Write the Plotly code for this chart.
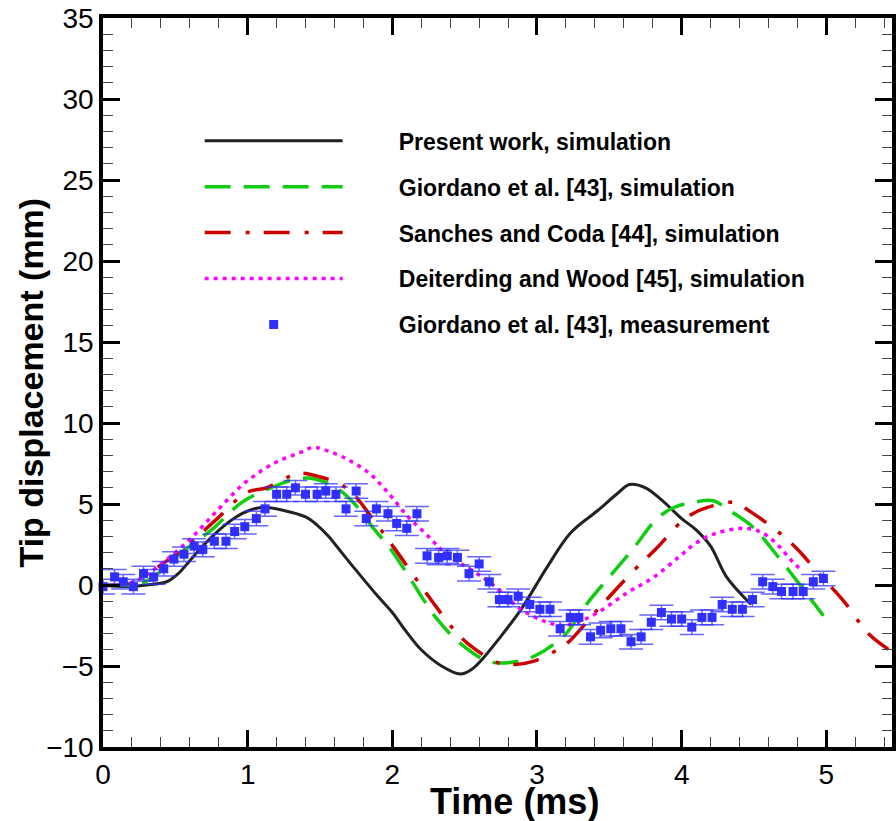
import plotly.graph_objects as go

# Present work, simulation
t_present = [0, 0.15, 0.3, 0.44, 0.52, 0.6, 0.7, 0.83, 0.92, 1.01, 1.11, 1.25, 1.40, 1.48, 1.56, 1.65, 1.75, 1.90, 2.0, 2.09, 2.2, 2.34, 2.47, 2.55, 2.62, 2.73, 2.89, 3.07, 3.23, 3.42, 3.55, 3.64, 3.75, 3.88, 4.0, 4.10, 4.2, 4.31, 4.48]
y_present = [0, -0.1, 0.0, 0.2, 0.7, 1.5, 2.5, 3.6, 4.2, 4.6, 4.8, 4.6, 4.2, 3.7, 3.0, 2.0, 0.9, -0.7, -1.7, -2.8, -4.0, -5.0, -5.5, -5.2, -4.6, -3.4, -1.5, 1.1, 3.2, 4.6, 5.6, 6.2, 6.0, 5.1, 4.1, 3.4, 2.4, 0.5, -1.2]

# Giordano et al. [43], simulation
t_giordano = [0, 0.29, 0.54, 0.75, 0.96, 1.16, 1.32, 1.42, 1.52, 1.63, 1.75, 1.86, 1.99, 2.13, 2.30, 2.47, 2.66, 2.8, 2.98, 3.19, 3.35, 3.51, 3.67, 3.83, 3.95, 4.08, 4.22, 4.33, 4.49, 4.67, 4.81, 4.98]
y_giordano = [0, 0.2, 2.0, 3.4, 5.1, 6.0, 6.5, 6.6, 6.4, 5.9, 4.9, 3.6, 2.2, 0.3, -2.0, -3.6, -4.7, -4.8, -4.4, -3.1, -1.1, 0.6, 2.3, 4.1, 4.8, 5.1, 5.2, 4.6, 3.6, 1.7, 0.1, -1.9]

# Sanches and Coda [44], simulation
t_sanches = [0, 0.17, 0.52, 0.79, 0.99, 1.13, 1.24, 1.36, 1.49, 1.62, 1.72, 1.88, 2.02, 2.25, 2.43, 2.52, 2.73, 2.85, 2.98, 3.14, 3.22, 3.42, 3.67, 3.83, 4.01, 4.12, 4.22, 4.36, 4.48, 4.65, 4.79, 4.95, 5.13, 5.29, 5.45]
y_sanches = [0, 0.1, 2.0, 4.1, 5.7, 6.0, 6.5, 6.9, 6.7, 6.3, 5.7, 3.9, 2.2, -0.7, -2.8, -3.6, -4.8, -4.9, -4.7, -4.0, -3.5, -1.5, 0.9, 2.3, 4.0, 4.6, 4.9, 5.1, 4.5, 3.4, 2.3, 0.7, -1.1, -3.0, -4.1]

# Deiterding and Wood [45], simulation
t_deiterding = [0, 0.1, 0.24, 0.43, 0.61, 0.79, 0.98, 1.18, 1.37, 1.45, 1.51, 1.68, 1.84, 1.97, 2.11, 2.25, 2.36, 2.57, 2.71, 2.89, 3.07, 3.18, 3.28, 3.42, 3.62, 3.81, 3.99, 4.10, 4.24, 4.43, 4.54, 4.65, 4.77, 4.83]
y_deiterding = [0, 0, 0.3, 1.5, 2.9, 4.6, 6.3, 7.5, 8.2, 8.5, 8.4, 7.8, 6.9, 5.7, 4.2, 3.0, 2.0, 0.8, -0.1, -1.5, -2.3, -2.5, -2.3, -1.7, -0.5, 0.5, 1.8, 2.6, 3.2, 3.5, 3.3, 2.6, 1.4, 0.9]

# Giordano et al. [43], measurement
t_meas = [0, 0.08, 0.14, 0.21, 0.28, 0.35, 0.42, 0.49, 0.56, 0.63, 0.69, 0.77, 0.85, 0.91, 0.98, 1.06, 1.12, 1.20, 1.27, 1.33, 1.40, 1.48, 1.54, 1.61, 1.68, 1.75, 1.82, 1.89, 1.97, 2.03, 2.10, 2.17, 2.24, 2.32, 2.38, 2.45, 2.53, 2.60, 2.67, 2.74, 2.80, 2.87, 2.95, 3.02, 3.09, 3.16, 3.23, 3.29, 3.37, 3.44, 3.51, 3.58, 3.65, 3.72, 3.79, 3.86, 3.93, 4.00, 4.07, 4.14, 4.21, 4.28, 4.35, 4.42, 4.49, 4.56, 4.63, 4.69, 4.77, 4.84, 4.91, 4.98]
y_meas = [-0.1, 0.5, 0.2, -0.1, 0.7, 0.5, 1.0, 1.6, 1.9, 2.4, 2.2, 2.7, 2.7, 3.3, 3.6, 4.1, 4.7, 5.6, 5.6, 6.0, 5.6, 5.6, 5.8, 5.6, 4.7, 5.8, 4.1, 4.7, 4.4, 3.8, 3.5, 4.4, 1.8, 1.7, 1.8, 1.7, 0.7, 1.3, 0.2, -0.9, -0.9, -0.7, -1.2, -1.5, -1.5, -2.7, -2.0, -2.0, -3.2, -2.8, -2.7, -2.7, -3.5, -3.2, -2.3, -1.7, -2.1, -2.1, -2.6, -2.0, -2.0, -1.2, -1.5, -1.5, -0.9, 0.2, -0.1, -0.4, -0.4, -0.4, 0.2, 0.4]
meas_err = 0.45

FONT = "Liberation Sans, Arial, sans-serif"
PAD = "\u00a0" * 8  # gap between legend symbol and label

fig = go.Figure()
fig.add_trace(go.Scatter(x=t_present, y=y_present, mode="lines", name=PAD + "Present work, simulation",
                         legendgroup="a", line=dict(color="#222222", width=3, shape="spline")))
fig.add_trace(go.Scatter(x=t_giordano, y=y_giordano, mode="lines", name=PAD + "Giordano et al. [43], simulation",
                         legendgroup="b", line=dict(color="#11cc11", width=3.5, dash="26px,13px", shape="spline")))
fig.add_trace(go.Scatter(x=t_sanches, y=y_sanches, mode="lines", name=PAD + "Sanches and Coda [44], simulation",
                         legendgroup="c", line=dict(color="#cc0000", width=3.5, dash="26px,15px,4px,14px", shape="spline")))
fig.add_trace(go.Scatter(x=t_deiterding, y=y_deiterding, mode="lines", name=PAD + "Deiterding and Wood [45], simulation",
                         legendgroup="d", line=dict(color="#ff00ff", width=3.5, dash="4px,5px", shape="spline")))
fig.add_trace(go.Scatter(x=t_meas, y=y_meas, mode="markers", name=PAD + "Giordano et al. [43], measurement",
                         legendgroup="e", cliponaxis=False,
                         marker=dict(symbol="square", size=9, color="#2f2fff"),
                         error_y=dict(type="constant", value=meas_err, color="rgba(50,50,255,0.75)",
                                      thickness=1.5, width=12)))

axis_common = dict(showline=True, linewidth=3.5, linecolor="black", mirror="allticks",
                   ticks="inside", ticklen=17, tickwidth=3, tickcolor="black",
                   showgrid=False, zeroline=False,
                   tickfont=dict(family=FONT, size=28, color="black"))

fig.update_layout(
    width=896, height=821,
    margin=dict(l=103, r=0, t=18, b=74),
    plot_bgcolor="white", paper_bgcolor="white",
    font=dict(family=FONT, color="black"),
    xaxis=dict(range=[0, 5.454], tick0=0, dtick=1,
               minor=dict(dtick=0.2, ticks="inside", ticklen=10, tickwidth=1, tickcolor="#444"),
               **axis_common),
    yaxis=dict(range=[-10, 35], tick0=0, dtick=5,
               minor=dict(dtick=1, ticks="inside", ticklen=10, tickwidth=1, tickcolor="#444"),
               ticklabelstandoff=0,
               **axis_common),
    showlegend=True,
    legend=dict(x=0.1225, y=0.861, xanchor="left", yanchor="top",
                bgcolor="rgba(0,0,0,0)", borderwidth=0,
                itemwidth=138, tracegroupgap=13, traceorder="grouped",
                font=dict(family=FONT, size=23, weight="bold", color="black")),
    annotations=[
        dict(text="Time (ms)", xref="paper", yref="paper", x=0.522, y=0, yshift=-54,
             xanchor="center", yanchor="middle", showarrow=False,
             font=dict(family=FONT, size=36, weight="bold", color="black")),
        dict(text="Tip displacement (mm)", xref="paper", yref="paper", x=0, xshift=-73, y=0.5,
             xanchor="center", yanchor="middle", showarrow=False, textangle=-90,
             font=dict(family=FONT, size=34, weight="bold", color="black")),
    ],
)

fig.write_html("out.html")
